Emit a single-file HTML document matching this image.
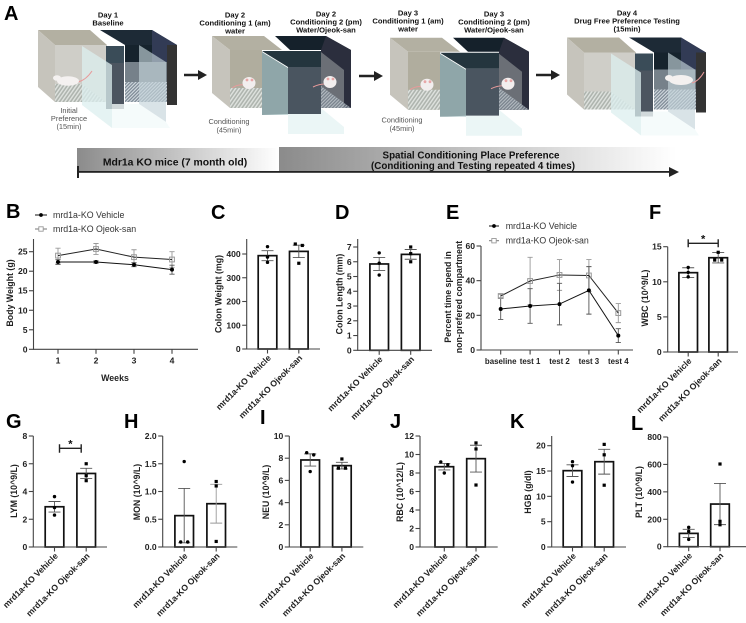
<!DOCTYPE html>
<html lang="en">
<head>
<meta charset="utf-8">
<title>Mdr1a KO mice conditioning place preference figure</title>
<style>
html,body{margin:0;padding:0;background:#fff;width:746px;height:623px;overflow:hidden}
svg{display:block;font-family:"Liberation Sans",Arial,sans-serif;filter:blur(.3px)}
.letter{font-size:20px;font-weight:bold;fill:#000}
.sch{font-size:7.6px;font-weight:bold;fill:#111;text-anchor:middle}
.schg{font-size:7.4px;fill:#555;text-anchor:middle}
.tick{font-size:8.6px;font-weight:bold;fill:#222}
.tick-small{font-size:7.9px;font-weight:bold;fill:#222}
.title{font-size:8.8px;font-weight:bold;fill:#222;text-anchor:middle}
.legend{font-size:8.8px;fill:#333}
</style>
</head>
<body>
<svg id="figure" xmlns="http://www.w3.org/2000/svg" width="746" height="623" viewBox="0 0 746 623">
<defs>
<linearGradient id="fadeA" x1="0" x2="1" y1="0" y2="0"><stop offset="0" stop-color="#8b8b8b"/><stop offset="1" stop-color="#ffffff"/></linearGradient>
<pattern id="hatchL" width="3" height="3" patternUnits="userSpaceOnUse" patternTransform="rotate(35)"><rect width="3" height="3" fill="#aeb4ae"/><rect width="1.4" height="3" fill="#dfe3df"/></pattern>
<pattern id="hatchD" width="2.4" height="2.4" patternUnits="userSpaceOnUse" patternTransform="rotate(45)"><rect width="2.4" height="2.4" fill="#7e8a96"/><rect width="1.1" height="2.4" fill="#d5dde2"/></pattern>
<g id="baselineBox">
<polygon points="38,30 90,30 107,45 55,45" fill="#b3b0a2"/>
<polygon points="55,45 107,45 107,102 55,102" fill="#cfcec8"/>
<polygon points="38,30 55,45 55,102 38,87" fill="#c6c4bc"/>
<polygon points="55,84 82,84 106,102 55,102" fill="url(#hatchL)"/>
<polygon points="100,30 152,30 177,45 125,45" fill="#1d2a36"/>
<polygon points="152,30 177,45 167,45 152,36" fill="#323b55"/>
<rect x="125" y="45" width="42" height="17" fill="#16232d"/>
<rect x="125" y="62" width="42" height="21" fill="#76818a"/>
<rect x="125" y="82" width="42" height="20" fill="url(#hatchD)"/>
<polygon points="152,30 167,40 167,62 152,62" fill="#323b55"/>
<polygon points="139,45 166,62 166,122 139,104" fill="#c4d4da" opacity=".65"/>
<rect x="106" y="46" width="18" height="17" fill="#3a4c58"/>
<rect x="106" y="63" width="18" height="46" fill="#4c5560"/>
<rect x="167" y="45" width="10" height="60" fill="#333333"/>
<polygon points="82,46 112,65 112,128 82,105" fill="#dcefef" opacity=".75"/>
<polygon points="112,128 170,128 166,122 139,104 112,104" fill="#f3fafa" opacity=".8"/>
</g>
<g id="conditionBox">
<polygon points="212,36 264,36 282,50 230,50" fill="#b3b0a2"/>
<polygon points="230,50 262,50 262,108 230,108" fill="#b0ad9e"/>
<polygon points="212,36 230,50 230,108 212,93" fill="#c6c4bc"/>
<polygon points="230,88 262,88 262,108 230,108" fill="url(#hatchL)"/>
<polygon points="275,36 326,36 351,50 321,50 290,50" fill="#15212b"/>
<polygon points="326,36 351,50 351,108 321,108 321,50" fill="#2b2e3d"/>
<polygon points="321,52 344,70 344,108 321,108" fill="#6b6f76"/>
<polygon points="321,86 351,108 321,108" fill="url(#hatchD)" opacity=".7"/>
<polygon points="262,51 321,51 321,67 288,67" fill="#24353e"/>
<polygon points="262,52 288,68 288,115 262,115" fill="#8fa6a9"/>
<rect x="288" y="67" width="33" height="47" fill="#4a5560"/>
<polygon points="262,115 288,115 288,134 344,134 344,127 321,108 321,114 288,114" fill="#e4f3f3" opacity=".75"/>
<g>
<path d="M244,85 Q238,84 232,88" stroke="#e89a9a" fill="none" stroke-width="1"/>
<ellipse cx="249" cy="83" rx="6.5" ry="6" fill="#f2eeee"/>
<circle cx="247" cy="80" r="1.4" fill="#e8a7a7"/><circle cx="252" cy="80" r="1.4" fill="#e8a7a7"/>
<path d="M325,84 Q319,84 313,87" stroke="#e89a9a" fill="none" stroke-width="1"/>
<ellipse cx="330" cy="82" rx="6.5" ry="6" fill="#f2eeee"/>
<circle cx="328" cy="79" r="1.4" fill="#e8a7a7"/><circle cx="333" cy="79" r="1.4" fill="#e8a7a7"/>
</g>
</g>
</defs>

<g id="panel-a">
<use href="#baselineBox"/>
<g>
<path d="M78,82 Q86,80 92,71" stroke="#e89a9a" fill="none" stroke-width="1"/>
<ellipse cx="68" cy="81" rx="11" ry="4.8" fill="#f4f1f0"/><ellipse cx="57" cy="78" rx="4" ry="2.8" fill="#f4f1f0"/>
</g>
<use href="#conditionBox"/>
<use href="#conditionBox" transform="translate(178,1.7)"/>
<use href="#baselineBox" transform="translate(529,7.5)"/>
<g>
<path d="M692,83 Q699,81 704,72" stroke="#e89a9a" fill="none" stroke-width="1"/>
<ellipse cx="681" cy="80" rx="12" ry="5" fill="#f4f1f0"/><ellipse cx="669" cy="78" rx="4" ry="3" fill="#f4f1f0"/>
</g>

<g fill="#222">
<polygon points="184,73.8 198,73.8 198,70 207,75 198,80 198,76.2 184,76.2"/>
<polygon points="359,74.8 374,74.8 374,71 383,76 374,81 374,77.2 359,77.2"/>
<polygon points="536,73.8 551,73.8 551,70 560,75 551,80 551,76.2 536,76.2"/>
</g>

<text class="sch" x="108" y="17.5">Day 1</text>
<text class="sch" x="108" y="25.5">Baseline</text>
<text class="sch" x="235" y="17.5">Day 2</text>
<text class="sch" x="235" y="25.5">Conditioning 1 (am)</text>
<text class="sch" x="235" y="33.5">water</text>
<text class="sch" x="326" y="16.5">Day 2</text>
<text class="sch" x="326" y="24.5">Conditioning 2 (pm)</text>
<text class="sch" x="326" y="32.5">Water/Ojeok-san</text>
<text class="sch" x="408" y="15.5">Day 3</text>
<text class="sch" x="408" y="23.5">Conditioning 1 (am)</text>
<text class="sch" x="408" y="31.5">water</text>
<text class="sch" x="494" y="16.5">Day 3</text>
<text class="sch" x="494" y="24.5">Conditioning 2 (pm)</text>
<text class="sch" x="494" y="32.5">Water/Ojeok-san</text>
<text class="sch" x="627" y="15.5">Day 4</text>
<text class="sch" x="627" y="23.5">Drug Free Preference Testing</text>
<text class="sch" x="627" y="31.5">(15min)</text>

<text class="schg" x="69" y="113">Initial</text>
<text class="schg" x="69" y="121">Preference</text>
<text class="schg" x="69" y="129">(15min)</text>
<text class="schg" x="229" y="124">Conditioning</text>
<text class="schg" x="229" y="132.5">(45min)</text>
<text class="schg" x="402" y="122.5">Conditioning</text>
<text class="schg" x="402" y="131">(45min)</text>

<rect x="77" y="148" width="202" height="24" fill="url(#fadeA)"/>
<rect x="279" y="147" width="397" height="25" fill="url(#fadeA)"/>
<text x="175" y="165.5" text-anchor="middle" font-size="10.4" font-weight="bold" fill="#111">Mdr1a KO mice (7 month old)</text>
<text x="471" y="158.5" text-anchor="middle" font-size="9.8" font-weight="bold" fill="#111">Spatial Conditioning Place Preference</text>
<text x="473" y="169" text-anchor="middle" font-size="9.8" font-weight="bold" fill="#111">(Conditioning and Testing repeated 4 times)</text>
<g fill="#222">
<rect x="78" y="171" width="592" height="1.8"/>
<rect x="77" y="166" width="2" height="12"/>
<polygon points="669,167 679,172 669,177"/>
</g>
</g>

<g>
<text class="letter" x="4" y="20">A</text>
<text class="letter" x="6" y="218">B</text>
<text class="letter" x="211" y="219">C</text>
<text class="letter" x="335" y="219">D</text>
<text class="letter" x="446" y="219">E</text>
<text class="letter" x="649" y="219">F</text>
<text class="letter" x="6" y="428">G</text>
<text class="letter" x="124" y="428">H</text>
<text class="letter" x="260" y="424">I</text>
<text class="letter" x="390" y="428">J</text>
<text class="letter" x="510" y="428">K</text>
<text class="letter" x="631" y="430">L</text>
</g>
</svg>

<script>
// ---- shared categories ----
const barCategories = ['mrd1a-KO Vehicle', 'mrd1a-KO Ojeok-san'];
const seriesNames = ['mrd1a-KO Vehicle', 'mrd1a-KO Ojeok-san'];

// ---- B: body weight ----
const weekLabels = ['1', '2', '3', '4'];
const weightTicks = [0, 5, 10, 15, 20, 25];
const weightVehicle = [22.35, 22.35, 21.67, 20.4];
const weightVehicleErr = [0.6, 0.3, 0.5, 1.15];
const weightOjeok = [24, 25.7, 23.6, 23];
const weightOjeokErr = [1.9, 1.4, 1.9, 2];

// ---- E: preference time ----
const testLabels = ['baseline', 'test 1', 'test 2', 'test 3', 'test 4'];
const timeTicks = [0, 20, 40, 60];
const timeVehicle = [23.65, 25.4, 26.5, 34.4, 8.3];
const timeVehicleErr = [6, 10, 12, 13.7, 4];
const timeOjeok = [31.15, 39.8, 43.3, 43, 21.3];
const timeOjeokErr = [1, 13.7, 8.9, 9.2, 5.5];

// ---- bar panels ----
const colonWeightTicks = [0, 100, 200, 300, 400];
const colonWeightMeans = [393, 411];
const colonWeightErr = [21, 26];
const colonWeightPoints = [[431, 387, 365], [442, 436, 361]];

const colonLengthTicks = [0, 1, 2, 3, 4, 5, 6, 7];
const colonLengthMeans = [5.85, 6.5];
const colonLengthErr = [0.44, 0.33];
const colonLengthPoints = [[6.6, 5.9, 5.1], [7.0, 6.55, 6.0]];

const wbcTicks = [0, 5, 10, 15];
const wbcMeans = [11.3, 13.43];
const wbcErr = [0.7, 0.75];
const wbcPoints = [[12.05, 11.34, 10.7], [14.2, 13.1, 13.1]];

const lymTicks = [0, 2, 4, 6, 8];
const lymMeans = [2.9, 5.3];
const lymErr = [0.38, 0.37];
const lymPoints = [[3.63, 2.84, 2.3], [6.0, 5.14, 4.78]];

const monTicks = [0, 0.5, 1, 1.5, 2];
const monTickLabels = ['0.0', '0.5', '1.0', '1.5', '2.0'];
const monMeans = [0.565, 0.78];
const monErr = [0.49, 0.35];
const monPoints = [[1.54, 0.09, 0.09], [1.18, 1.1, 0.1]];

const neuTicks = [0, 2, 4, 6, 8, 10];
const neuMeans = [7.84, 7.33];
const neuErr = [0.55, 0.3];
const neuPoints = [[8.5, 8.3, 6.8], [7.93, 7.1, 7.1]];

const rbcTicks = [0, 2, 4, 6, 8, 10, 12];
const rbcMeans = [8.68, 9.55];
const rbcErr = [0.35, 1.45];
const rbcPoints = [[9.2, 8.9, 8.0], [11.25, 10.6, 6.7]];

const hgbTicks = [0, 5, 10, 15, 20];
const hgbMeans = [15.07, 16.84];
const hgbErr = [1.15, 2.45];
const hgbPoints = [[16.84, 16.05, 12.83], [20.26, 18.2, 12.2]];

const pltTicks = [0, 200, 400, 600, 800];
const pltMeans = [97, 311];
const pltErr = [30, 150];
const pltPoints = [[141, 112, 53], [603, 185, 160]];

// ---- drawing ----
const NS = 'http://www.w3.org/2000/svg';
const root = document.getElementById('figure');
function mk(tag, attrs, parent, text) {
  const n = document.createElementNS(NS, tag);
  for (const k in attrs) n.setAttribute(k, attrs[k]);
  if (text !== undefined) n.textContent = text;
  parent.appendChild(n);
  return n;
}
const AXIS = '#444';

function drawYAxis(g, p, ticks, labels, yScale) {
  const line = mk('line', {x1: p.left, x2: p.left, y1: p.top, y2: p.y0 + 0.5, stroke: AXIS, 'stroke-width': 1.1}, g);
  
  
  ticks.forEach((t, i) => {
    const tk = mk('line', {x1: p.left - 4.5, x2: p.left, y1: yScale(t), y2: yScale(t), stroke: AXIS, 'stroke-width': 1.1}, g);
    
    
    const lb = mk('text', {class: 'tick', x: p.left - 6, y: yScale(t) + 3, 'text-anchor': 'end'}, g, labels ? labels[i] : String(t));
    
    
  });
}
function drawXAxis(g, p) {
  const line = mk('line', {x1: p.left, x2: p.right, y1: p.y0, y2: p.y0, stroke: AXIS, 'stroke-width': 1.1}, g);
  
  
}
function drawYTitle(g, x, y, text) {
  const t = mk('text', {class: 'title', x: x, y: y, transform: 'rotate(-90 ' + x + ' ' + y + ')'}, g, text);
  
  
}
function drawError(g, x, y, yHi, yLo, color, cap) {
  const e = mk('path', {d: 'M' + x + ',' + yHi + 'V' + yLo + 'M' + (x - cap) + ',' + yHi + 'H' + (x + cap) + 'M' + (x - cap) + ',' + yLo + 'H' + (x + cap), stroke: color, 'stroke-width': 0.9, fill: 'none'}, g);
  
  
}
function swarm(values, yScale) {
  const idx = values.map((v, i) => i).sort((a, b) => yScale(values[a]) - yScale(values[b]));
  const off = values.map(() => 0);
  for (let i = 0; i + 1 < idx.length; i++) {
    if (Math.abs(yScale(values[idx[i]]) - yScale(values[idx[i + 1]])) < 3.2) {
      off[idx[i]] = -3.5;
      off[idx[i + 1]] = 3.5;
      i++;
    }
  }
  return off;
}
function barChart(cfg, ticks, means, errs, points, labels) {
  const g = mk('g', {}, root);
  
  
  const maxT = ticks[ticks.length - 1];
  const yScale = v => cfg.y0 - v / maxT * (cfg.y0 - cfg.yMaxTick);
  const xScale = i => cfg.first + i * cfg.step;
  means.forEach((m, i) => {
    const cx = xScale(i);
    const bar = mk('rect', {x: cx - 9.3, y: yScale(m), width: 18.6, height: cfg.y0 - yScale(m), fill: '#fff', stroke: '#111', 'stroke-width': 1.7}, g);
    
    
  });
  drawXAxis(g, {left: cfg.left, right: cfg.right, y0: cfg.y0});
  drawYAxis(g, {left: cfg.left, top: cfg.top, y0: cfg.y0}, ticks, labels, yScale);
  means.forEach((m, i) => {
    const cx = xScale(i);
    const errColor = (cfg.lightErr === i) ? '#999' : '#555';
    drawError(g, cx, yScale(m), yScale(m + errs[i]), yScale(Math.max(0, m - errs[i])), errColor, 6);
    const off = swarm(points[i], yScale);
    points[i].forEach((v, j) => {
      let mark;
      if (i === 0) {
        mark = mk('circle', {cx: cx + off[j], cy: yScale(v), r: 1.7, fill: '#000'}, g);
      } else {
        mark = mk('rect', {x: cx + off[j] - 1.6, y: yScale(v) - 1.6, width: 3.2, height: 3.2, fill: '#000'}, g);
      }
      
      
    });
    const tk = mk('line', {x1: cx, x2: cx, y1: cfg.y0, y2: cfg.y0 + 4.5, stroke: AXIS, 'stroke-width': 1.1}, g);
    
    
    const ax = cx + 4, ay = cfg.y0 + 9.5;
    const lb = mk('text', {class: 'tick', x: ax, y: ay, 'text-anchor': 'end', transform: 'rotate(-45 ' + ax + ' ' + ay + ')'}, g, barCategories[i]);
    
    
  });
  drawYTitle(g, cfg.titleX, cfg.titleY, cfg.title);
  if (cfg.bracketY) {
    const x1 = xScale(0) + (cfg.bracketInset || 0), x2 = xScale(1) - (cfg.bracketInset || 0);
    const br = mk('path', {d: 'M' + x1 + ',' + (cfg.bracketY + cfg.drop) + 'V' + (cfg.bracketY - cfg.rise) + 'M' + x1 + ',' + cfg.bracketY + 'H' + x2 + 'M' + x2 + ',' + (cfg.bracketY + cfg.drop) + 'V' + (cfg.bracketY - cfg.rise), stroke: '#222', 'stroke-width': 1.4, fill: 'none'}, g);
    
    
    const st = mk('text', {x: (x1 + x2) / 2, y: cfg.bracketY - 1, 'text-anchor': 'middle', 'font-size': 11, 'font-weight': 'bold', fill: '#111'}, g, '*');
    
    
  }
}
function lineChart(cfg, labels, ticks, s1, e1, s2, e2) {
  const g = mk('g', {}, root);
  
  
  const maxT = ticks[ticks.length - 1];
  const yScale = v => cfg.y0 - v / maxT * (cfg.y0 - cfg.yMaxTick);
  const xScale = i => cfg.first + i * cfg.step;
  drawXAxis(g, {left: cfg.left, right: cfg.right, y0: cfg.y0});
  drawYAxis(g, {left: cfg.left, top: cfg.top, y0: cfg.y0}, ticks, null, yScale);
  labels.forEach((l, i) => {
    const tk = mk('line', {x1: xScale(i), x2: xScale(i), y1: cfg.y0, y2: cfg.y0 + 4.5, stroke: AXIS, 'stroke-width': 1.1}, g);
    
    
    const lb = mk('text', {class: cfg.xLabelClass, x: xScale(i), y: cfg.y0 + 14, 'text-anchor': 'middle'}, g, l);
    
    
  });
  s2.forEach((v, i) => drawError(g, xScale(i), yScale(v), yScale(v + e2[i]), yScale(v - e2[i]), '#999', 2.6));
  s1.forEach((v, i) => drawError(g, xScale(i), yScale(v), yScale(v + e1[i]), yScale(v - e1[i]), '#555', 2.6));
  const l2 = mk('polyline', {points: s2.map((v, i) => xScale(i) + ',' + yScale(v)).join(' '), fill: 'none', stroke: '#222', 'stroke-width': 1}, g);
  
  
  const l1 = mk('polyline', {points: s1.map((v, i) => xScale(i) + ',' + yScale(v)).join(' '), fill: 'none', stroke: '#111', 'stroke-width': 1}, g);
  
  
  s2.forEach((v, i) => {
    const m = mk('rect', {x: xScale(i) - 2.4, y: yScale(v) - 2.4, width: 4.8, height: 4.8, fill: 'none', stroke: '#999', 'stroke-width': 1}, g);
    
    
  });
  s1.forEach((v, i) => {
    const m = mk('circle', {cx: xScale(i), cy: yScale(v), r: 2, fill: '#000'}, g);
    
    
  });
  // legend
  const a = mk('line', {x1: cfg.legX, x2: cfg.legX + cfg.legW, y1: cfg.legY1, y2: cfg.legY1, stroke: '#111', 'stroke-width': 1}, g);
  
  
  const am = mk('circle', {cx: cfg.legX + cfg.legW / 2, cy: cfg.legY1, r: 1.9, fill: '#000'}, g);
  
  
  const at = mk('text', {class: 'legend', x: cfg.legTextX, y: cfg.legY1 + 3}, g, seriesNames[0]);
  
  
  const b = mk('line', {x1: cfg.legX, x2: cfg.legX + cfg.legW, y1: cfg.legY2, y2: cfg.legY2, stroke: '#777', 'stroke-width': 1}, g);
  
  
  const bm = mk('rect', {x: cfg.legX + cfg.legW / 2 - 2.2, y: cfg.legY2 - 2.2, width: 4.4, height: 4.4, fill: '#fff', stroke: '#999', 'stroke-width': 0.9}, g);
  
  
  const bt = mk('text', {class: 'legend', x: cfg.legTextX, y: cfg.legY2 + 3}, g, seriesNames[1]);
  
  
  return g;
}

const gB = lineChart({name: 'body-weight-chart', xLabelClass: 'tick', left: 33.5, right: 198, top: 239, y0: 349.3, yMaxTick: 251.7, first: 58, step: 38,
  legX: 35, legW: 12, legY1: 215, legY2: 229, legTextX: 53}, weekLabels, weightTicks, weightVehicle, weightVehicleErr, weightOjeok, weightOjeokErr);
drawYTitle(gB, 13, 293, 'Body Weight (g)');
const weeks = mk('text', {class: 'title', x: 115, y: 381}, gB, 'Weeks');



const gE = lineChart({name: 'preference-time-chart', xLabelClass: 'tick-small', left: 481, right: 633, top: 246, y0: 350, yMaxTick: 246, first: 500.7, step: 29.4,
  legX: 489, legW: 10, legY1: 226, legY2: 240.7, legTextX: 505.7}, testLabels, timeTicks, timeVehicle, timeVehicleErr, timeOjeok, timeOjeokErr);
drawYTitle(gE, 451, 297, 'Percent time spend in');
drawYTitle(gE, 462, 297, 'non-prefered compartment');

barChart({name: 'colon-weight-chart', title: 'Colon Weight (mg)', left: 246.7, right: 320, top: 239, y0: 349, yMaxTick: 254, first: 267.5, step: 31.3, titleX: 221.5, titleY: 294}, colonWeightTicks, colonWeightMeans, colonWeightErr, colonWeightPoints);
barChart({name: 'colon-length-chart', title: 'Colon Length (mm)', left: 357.7, right: 432, top: 239, y0: 350.3, yMaxTick: 247, first: 379.2, step: 31.5, titleX: 342.5, titleY: 294}, colonLengthTicks, colonLengthMeans, colonLengthErr, colonLengthPoints);
barChart({name: 'wbc-chart', title: 'WBC (10^9/L)', left: 667.7, right: 738, top: 246.7, y0: 352, yMaxTick: 246.7, first: 688.2, step: 30, titleX: 648, titleY: 298, bracketY: 243.3, drop: 4, rise: 4}, wbcTicks, wbcMeans, wbcErr, wbcPoints);
barChart({name: 'lym-chart', title: 'LYM (10^9/L)', left: 33.3, right: 107, top: 436, y0: 547, yMaxTick: 436, first: 54.5, step: 31.7, titleX: 17, titleY: 491, bracketY: 448.3, drop: 4.5, rise: 4, bracketInset: 5}, lymTicks, lymMeans, lymErr, lymPoints);
barChart({name: 'mon-chart', title: 'MON (10^9/L)', left: 162.7, right: 237.3, top: 436, y0: 547, yMaxTick: 436, first: 184.2, step: 32, titleX: 140, titleY: 492, lightErr: 1}, monTicks, monMeans, monErr, monPoints, monTickLabels);
barChart({name: 'neu-chart', title: 'NEU (10^9/L)', left: 289.3, right: 363.3, top: 436, y0: 547, yMaxTick: 436, first: 310.2, step: 31.7, titleX: 269, titleY: 492}, neuTicks, neuMeans, neuErr, neuPoints);
barChart({name: 'rbc-chart', title: 'RBC (10^12/L)', left: 420, right: 497.7, top: 436, y0: 547, yMaxTick: 436, first: 444.3, step: 31.7, titleX: 403, titleY: 492}, rbcTicks, rbcMeans, rbcErr, rbcPoints);
barChart({name: 'hgb-chart', title: 'HGB (g/dl)', left: 551.7, right: 626, top: 436, y0: 547, yMaxTick: 445.7, first: 572.5, step: 31.7, titleX: 531, titleY: 492}, hgbTicks, hgbMeans, hgbErr, hgbPoints);
barChart({name: 'plt-chart', title: 'PLT (10^9/L)', left: 667.7, right: 746, top: 437, y0: 546.7, yMaxTick: 437, first: 688.7, step: 31.3, titleX: 642, titleY: 492}, pltTicks, pltMeans, pltErr, pltPoints);
</script>
</body>
</html>
